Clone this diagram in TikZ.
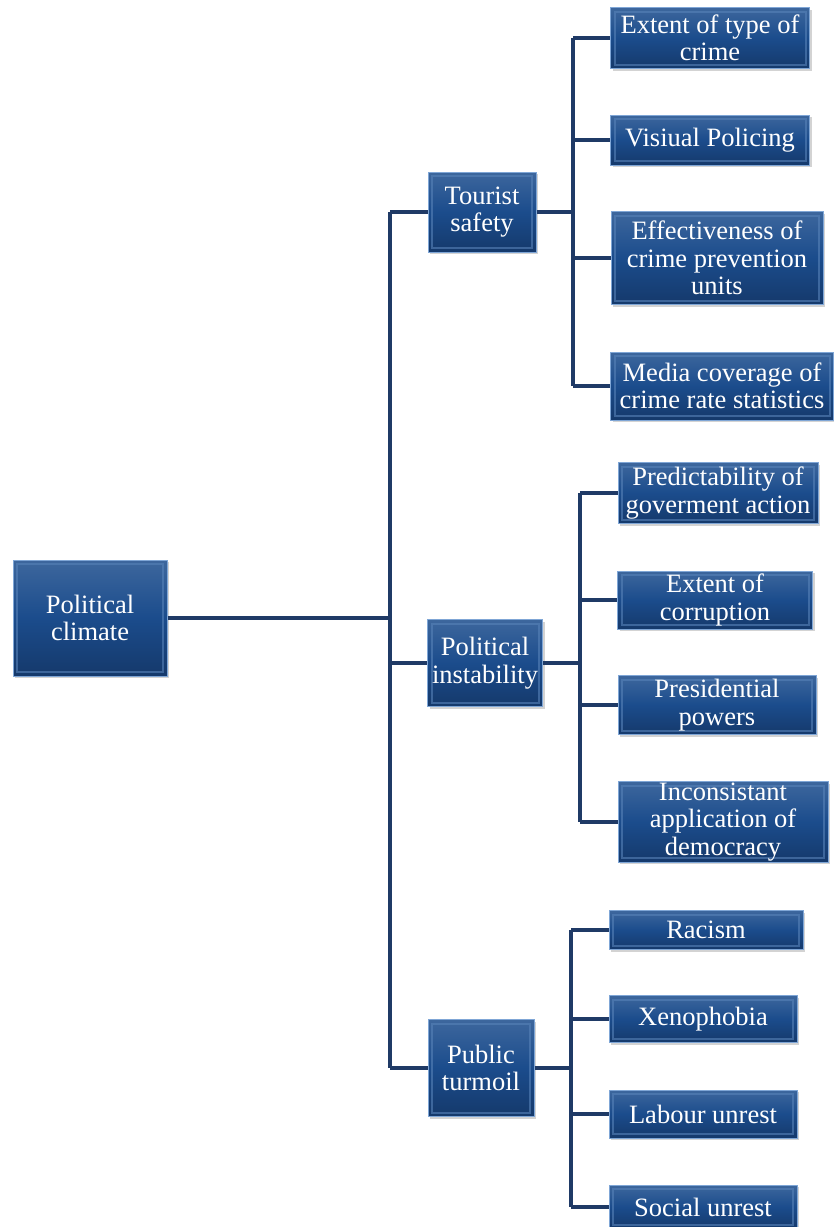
\documentclass[tikz,border=0pt]{standalone}
\usepackage{fontspec}
\setmainfont{Liberation Serif}
\usepackage{tikz}
\usetikzlibrary{shadows}

\definecolor{boxblue}{HTML}{1B4C8C}
\definecolor{boxdark}{HTML}{15396B}
\definecolor{boxedge}{HTML}{7FA6D6}
\definecolor{linkblue}{HTML}{1F3A66}

\tikzset{
    box/.style={rectangle, align=center, text=white, inner sep=1pt,
        top color=boxblue!85!white, bottom color=boxdark, middle color=boxblue,
        draw=boxedge, line width=1pt,
        drop shadow={shadow xshift=2pt, shadow yshift=-2pt, opacity=0.35},
        font=\fontsize{26.5}{27.5}\selectfont,
        path picture={\draw[boxedge!60!boxblue, line width=2pt, opacity=0.6]
            ([shift={(4pt,-4pt)}]path picture bounding box.north west) rectangle
            ([shift={(-4pt,4pt)}]path picture bounding box.south east);}},
    link/.style={draw=linkblue, line width=4pt}
}

\begin{document}
\begin{tikzpicture}[x=1pt, y=-1pt]

    \useasboundingbox (0,0) rectangle (834,1227);

    % ==========================================
    % 1. RADICE
    % ==========================================
    \node[box, minimum width=154pt, minimum height=116pt] (climate) at (90,618) {Political\\climate};

    % ==========================================
    % 2. LIVELLO INTERMEDIO
    % ==========================================
    \node[box, minimum width=108pt, minimum height=80pt] (safety) at (482,212) {Tourist\\safety};
    \node[box, minimum width=115pt, minimum height=87pt] (instab) at (485,663) {Political\\instability};
    \node[box, minimum width=106pt, minimum height=97pt] (turmoil) at (481,1068) {Public\\turmoil};

    % ==========================================
    % 3. FOGLIE
    % ==========================================
    % Tourist safety
    \node[box, minimum width=199pt, minimum height=61pt] (crimetype) at (710,38) {Extent of type of\\crime};
    \node[box, minimum width=199pt, minimum height=50pt] (policing) at (710,140) {Visiual Policing};
    \node[box, minimum width=212pt, minimum height=93pt] (prevention) at (717,258) {Effectiveness of\\crime prevention\\units};
    \node[box, minimum width=223pt, minimum height=68pt] (media) at (722,386) {Media coverage of\\crime rate statistics};

    % Political instability
    \node[box, minimum width=200pt, minimum height=61pt] (predict) at (718,493) {Predictability of\\goverment action};
    \node[box, minimum width=195pt, minimum height=58pt] (corruption) at (715,600) {Extent of\\corruption};
    \node[box, minimum width=198pt, minimum height=59pt] (powers) at (717,705) {Presidential\\powers};
    \node[box, minimum width=210pt, minimum height=79pt] (democracy) at (723,822) {Inconsistant\\application of\\democracy};

    % Public turmoil
    \node[box, minimum width=194pt, minimum height=39pt] (racism) at (706,930) {Racism};
    \node[box, minimum width=188pt, minimum height=47pt] (xeno) at (703,1019) {Xenophobia};
    \node[box, minimum width=188pt, minimum height=48pt] (labour) at (703,1114) {Labour unrest};
    \node[box, minimum width=188pt, minimum height=44pt] (social) at (703,1207) {Social unrest};

    % ==========================================
    % 4. COLLEGAMENTI
    % ==========================================
    \coordinate (trunk) at (390,618);
    \coordinate (safetyBus) at (573,212);
    \coordinate (instabBus) at (580,663);
    \coordinate (turmoilBus) at (571,1068);

    \draw[link] (climate.east) -- (trunk);
    \draw[link] (trunk |- safety) -- (trunk |- turmoil);
    \foreach \n in {safety, instab, turmoil}
        \draw[link] (trunk |- \n) -- (\n.west);

    \draw[link] (safety.east) -- (safetyBus);
    \draw[link] (safetyBus |- crimetype) -- (safetyBus |- media);
    \foreach \n in {crimetype, policing, prevention, media}
        \draw[link] (safetyBus |- \n) -- (\n.west);

    \draw[link] (instab.east) -- (instabBus);
    \draw[link] (instabBus |- predict) -- (instabBus |- democracy);
    \foreach \n in {predict, corruption, powers, democracy}
        \draw[link] (instabBus |- \n) -- (\n.west);

    \draw[link] (turmoil.east) -- (turmoilBus);
    \draw[link] (turmoilBus |- racism) -- (turmoilBus |- social);
    \foreach \n in {racism, xeno, labour, social}
        \draw[link] (turmoilBus |- \n) -- (\n.west);

\end{tikzpicture}
\end{document}
